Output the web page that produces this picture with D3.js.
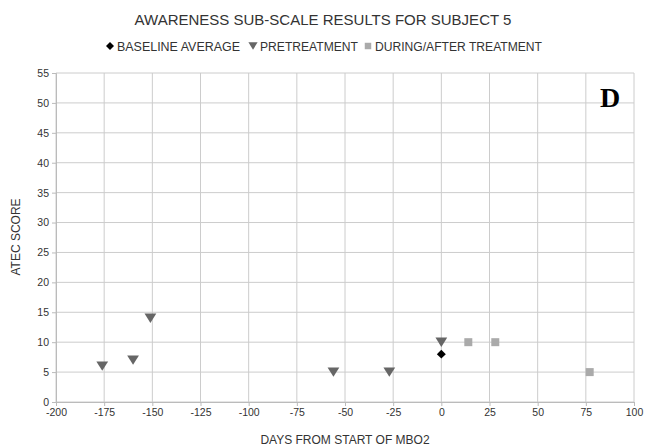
<!DOCTYPE html>
<html>
<head>
<meta charset="utf-8">
<script src="https://cdn.jsdelivr.net/npm/d3@7"></script>
<style>
  body { margin: 0; background: #fff; }
  text { font-family: "Liberation Sans", Arial, sans-serif; }
</style>
</head>
<body>
<svg id="chart" width="647" height="448"></svg>
<script>
// data
const baselineDays = [0];
const baselineScores = [8];
const preDays = [-176, -160, -151, -56, -27, 0];
const preScores = [6, 7, 14, 5, 5, 10];
const duringDays = [14, 28, 77];
const duringScores = [10, 10, 5];
const xTicks = d3.range(-200, 101, 25);
const yTicks = d3.range(0, 56, 5);

const svg = d3.select("#chart");
const x = d3.scaleLinear().domain([-200, 100]).range([56, 634]);
const y = d3.scaleLinear().domain([0, 55]).range([402, 73]);

// grid
svg.append("g").selectAll("line").data(xTicks).join("line")
    .attr("x1", d => x(d)).attr("x2", d => x(d))
    .attr("y1", y(55)).attr("y2", y(0))
    .attr("stroke", "#ccc").attr("stroke-width", 1);
svg.append("g").selectAll("line").data(yTicks).join("line")
    .attr("x1", x(-200)).attr("x2", x(100))
    .attr("y1", d => y(d)).attr("y2", d => y(d))
    .attr("stroke", "#ccc").attr("stroke-width", 1);

// axes (plain hyphen for negatives, like the original)
const fmt = d => String(d);
const xAxis = svg.append("g").attr("transform", `translate(0,${y(0)})`)
    .call(d3.axisBottom(x).tickValues(xTicks).tickFormat(fmt).tickSize(4).tickPadding(3));
const yAxis = svg.append("g").attr("transform", `translate(${x(-200)},0)`)
    .call(d3.axisLeft(y).tickValues(yTicks).tickFormat(fmt).tickSize(4).tickPadding(3));
[xAxis, yAxis].forEach(a => {
    a.select(".domain").attr("stroke", "#bbb");
    a.selectAll(".tick line").attr("stroke", "#bbb");
    a.selectAll(".tick text").attr("fill", "#333").style("font-size", "10.5px")
        .style("font-family", "'Liberation Sans', Arial, sans-serif");
});

// markers
const triDown = { draw(ctx, size) {
    const s = Math.sqrt(size) * 0.62;
    ctx.moveTo(-s, -s * 0.8); ctx.lineTo(s, -s * 0.8); ctx.lineTo(0, s * 0.8); ctx.closePath();
} };
// square turned 45 degrees, wider than d3's own diamond
const rhomb = { draw(ctx, size) {
    const s = Math.sqrt(size / 2);
    ctx.moveTo(0, -s); ctx.lineTo(s, 0); ctx.lineTo(0, s); ctx.lineTo(-s, 0); ctx.closePath();
} };
const sym = (type, size) => d3.symbol().type(type).size(size)();

svg.append("g").selectAll("path").data(d3.zip(preDays, preScores)).join("path")
    .attr("transform", d => `translate(${x(d[0])},${y(d[1])})`)
    .attr("d", sym(triDown, 90)).attr("fill", "#666");
svg.append("g").selectAll("path").data(d3.zip(duringDays, duringScores)).join("path")
    .attr("transform", d => `translate(${x(d[0])},${y(d[1])})`)
    .attr("d", sym(d3.symbolSquare, 64)).attr("fill", "#aaa");
svg.append("g").selectAll("path").data(d3.zip(baselineDays, baselineScores)).join("path")
    .attr("transform", d => `translate(${x(d[0])},${y(d[1])})`)
    .attr("d", sym(rhomb, 40)).attr("fill", "#000");

// titles
svg.append("text").attr("x", 323).attr("y", 25).attr("text-anchor", "middle")
    .attr("fill", "#333").style("font-size", "15px")
    .text("AWARENESS SUB-SCALE RESULTS FOR SUBJECT 5");
svg.append("text").attr("x", 345).attr("y", 444).attr("text-anchor", "middle")
    .attr("fill", "#333").style("font-size", "12px").text("DAYS FROM START OF MBO2");
svg.append("text").attr("transform", "translate(20,237) rotate(-90)").attr("text-anchor", "middle")
    .attr("fill", "#333").style("font-size", "12px").text("ATEC SCORE");

svg.append("text").attr("x", 610).attr("y", 107).attr("text-anchor", "middle")
    .attr("fill", "#000").style("font-size", "28px").style("font-weight", "bold")
    .style("font-family", "'Liberation Serif', 'Times New Roman', serif").text("D");

// legend
const legend = [
    { label: "BASELINE AVERAGE", shape: rhomb, size: 32, color: "#000", x: 110, w: 123 },
    { label: "PRETREATMENT", shape: triDown, size: 55, color: "#666", x: 253, w: 98 },
    { label: "DURING/AFTER TREATMENT", shape: d3.symbolSquare, size: 42, color: "#aaa", x: 368, w: 167 }
];
const lg = svg.append("g").selectAll("g").data(legend).join("g")
    .attr("transform", d => `translate(${d.x},46)`);
lg.append("path").attr("d", d => sym(d.shape, d.size)).attr("fill", d => d.color);
lg.append("text").attr("x", 7).attr("y", 4.5).attr("fill", "#333").style("font-size", "12px")
    .attr("textLength", d => d.w).attr("lengthAdjust", "spacingAndGlyphs")
    .text(d => d.label);
</script>
</body>
</html>
